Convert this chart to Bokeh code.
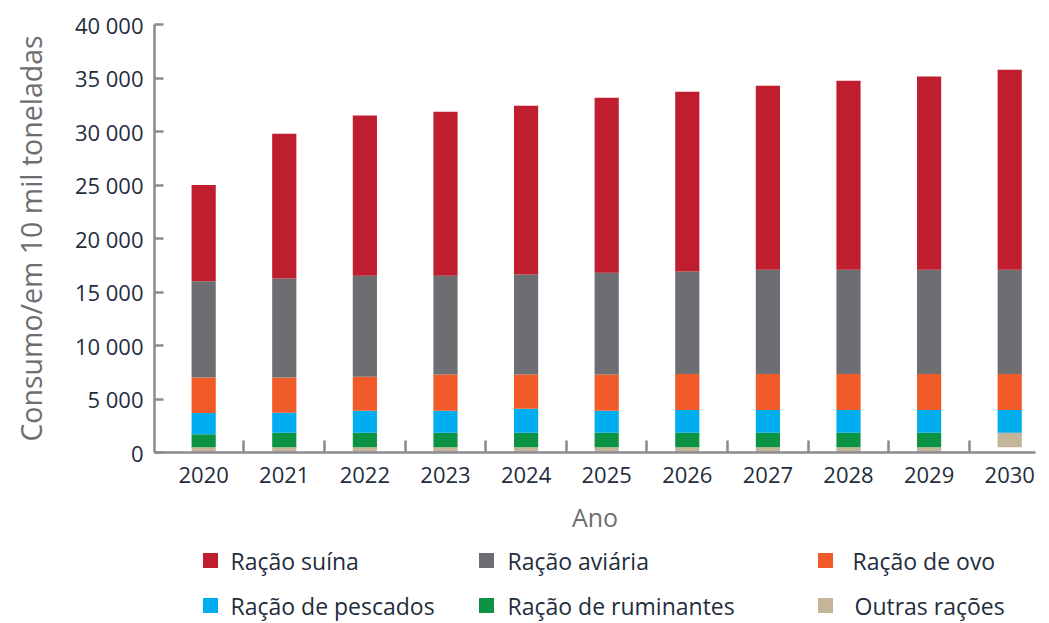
import numpy as np
from bokeh.plotting import figure
from bokeh.layouts import column
from bokeh.models import ColumnDataSource, FixedTicker, Range1d
from bokeh.core.properties import value
from bokeh.embed import file_html
from bokeh.resources import INLINE

# ---- data (10 mil toneladas) ----
years = [2020, 2021, 2022, 2023, 2024, 2025, 2026, 2027, 2028, 2029, 2030]
racao_suina = [9000, 13540, 14990, 15340, 15770, 16370, 16810, 17210, 17680, 18060, 18710]
racao_aviaria = [9000, 9260, 9420, 9230, 9350, 9510, 9570, 9730, 9730, 9730, 9730]
racao_ovo = [3300, 3280, 3180, 3370, 3180, 3370, 3360, 3360, 3360, 3360, 3360]
racao_pescados = [2000, 1870, 2060, 2060, 2250, 2060, 2130, 2130, 2130, 2130, 2130]
racao_ruminantes = [1200, 1350, 1350, 1350, 1350, 1350, 1350, 1350, 1350, 1350, 1350]
outras_racoes = [500, 500, 500, 500, 500, 500, 500, 500, 500, 500, 500]
y_ticks = [0, 5000, 10000, 15000, 20000, 25000, 30000, 35000, 40000]

RED = "#be1e2d"
GRAY = "#6d6e71"
ORANGE = "#f15a29"
BLUE = "#00aeef"
GREEN = "#0c9444"
TAN = "#c4b49a"
AXIS = "#8a8b8f"
DARK = "#1f2d3d"
LABEL_GRAY = "#6d6e71"
FONT = "Open Sans"

n = len(years)
# the reference draws the 2030 ruminant block in the "others" colour and leaves the base empty
series = [
    ("Outras rações", outras_racoes, [TAN] * n, [1.0] * (n - 1) + [0.0]),
    ("Ração de ruminantes", racao_ruminantes, [GREEN] * (n - 1) + [TAN], [1.0] * n),
    ("Ração de pescados", racao_pescados, [BLUE] * n, [1.0] * n),
    ("Ração de ovo", racao_ovo, [ORANGE] * n, [1.0] * n),
    ("Ração aviária", racao_aviaria, [GRAY] * n, [1.0] * n),
    ("Ração suína", racao_suina, [RED] * n, [1.0] * n),
]
series_color = {"Outras rações": TAN, "Ração de ruminantes": GREEN, "Ração de pescados": BLUE,
                "Ração de ovo": ORANGE, "Ração aviária": GRAY, "Ração suína": RED}

W = 1041
BL, BR = 154, 6
p = figure(width=W, height=540, output_backend="svg", toolbar_location=None,
           x_range=Range1d(2019.39, 2030.32), y_range=Range1d(0, 40000),
           min_border_left=BL, min_border_right=BR, min_border_top=24, min_border_bottom=88)
p.outline_line_color = None
p.grid.grid_line_color = None
p.background_fill_color = "white"
p.border_fill_color = "white"

bottom = np.zeros(n)
for name, vals, colors, alphas in series:
    top = bottom + np.array(vals, dtype=float)
    src = ColumnDataSource(dict(x=years, bottom=bottom.copy(), top=top, color=colors, alpha=alphas))
    p.vbar(x="x", bottom="bottom", top="top", width=0.3, fill_color="color",
           fill_alpha="alpha", line_color=None, source=src)
    bottom = top

# axes
midpoints = [(a + b) / 2 for a, b in zip(years[:-1], years[1:])]
p.xaxis.ticker = FixedTicker(ticks=years, minor_ticks=midpoints)
p.xaxis.major_label_overrides = {y: str(y) for y in years}
p.xaxis.major_tick_line_color = None
p.xaxis.minor_tick_in = 12
p.xaxis.minor_tick_out = 0
p.xaxis.minor_tick_line_color = AXIS
p.xaxis.minor_tick_line_width = 2.5
p.xaxis.axis_label = "Ano"

p.yaxis.ticker = FixedTicker(ticks=y_ticks, minor_ticks=[])
p.yaxis.major_label_overrides = {v: f"{v:,}".replace(",", " ") for v in y_ticks}
p.yaxis.major_tick_in = 9
p.yaxis.major_tick_out = 0
p.yaxis.major_tick_line_color = AXIS
p.yaxis.major_tick_line_width = 2.5
p.yaxis.minor_tick_line_color = None
p.yaxis.axis_label = "Consumo/em 10 mil toneladas"

for ax in (p.xaxis, p.yaxis):
    ax.axis_line_color = AXIS
    ax.axis_line_width = 2.5
    ax.major_label_text_font = FONT
    ax.major_label_text_font_size = "22px"
    ax.major_label_text_color = DARK
    ax.axis_label_text_font = FONT
    ax.axis_label_text_font_style = "normal"
    ax.axis_label_text_color = LABEL_GRAY

p.xaxis.major_label_standoff = 8
p.xaxis.axis_label_text_font_size = "25px"
p.xaxis.axis_label_standoff = 14
p.yaxis.major_label_standoff = 11
p.yaxis.axis_label_text_font_size = "28.5px"
p.yaxis.axis_label_standoff = 22

# ---- legend panel: frame aligned with the chart's frame, x in page pixels, y downward ----
LH = 82
lg = figure(width=W, height=LH, output_backend="svg", toolbar_location=None,
            x_range=Range1d(BL, W - BR), y_range=Range1d(LH, 0),
            min_border_left=BL, min_border_right=BR, min_border_top=0, min_border_bottom=0)
lg.axis.visible = False
lg.grid.grid_line_color = None
lg.outline_line_color = None
lg.border_fill_color = "white"

legend_layout = [  # (name, square centre x, label x, row centre y)
    ("Ração suína", 210, 230, 20),
    ("Ração aviária", 486, 507, 20),
    ("Ração de ovo", 825, 852, 20),
    ("Ração de pescados", 210, 230, 65),
    ("Ração de ruminantes", 486, 507, 65),
    ("Outras rações", 825, 854, 65),
]
lsrc = ColumnDataSource(dict(
    name=[r[0] for r in legend_layout],
    sx=[r[1] for r in legend_layout],
    tx=[r[2] for r in legend_layout],
    y=[r[3] for r in legend_layout],
    color=[series_color[r[0]] for r in legend_layout],
))
lg.rect(x="sx", y="y", width=15, height=15, fill_color="color", line_color=None, source=lsrc)
lg.text(x="tx", y="y", text="name", source=lsrc, text_font=value(FONT),
        text_font_size=value("23px"), text_color=DARK, text_baseline="middle", text_align="left")

layout = column(p, lg, spacing=0)
open("out.html", "w").write(file_html(layout, INLINE))
